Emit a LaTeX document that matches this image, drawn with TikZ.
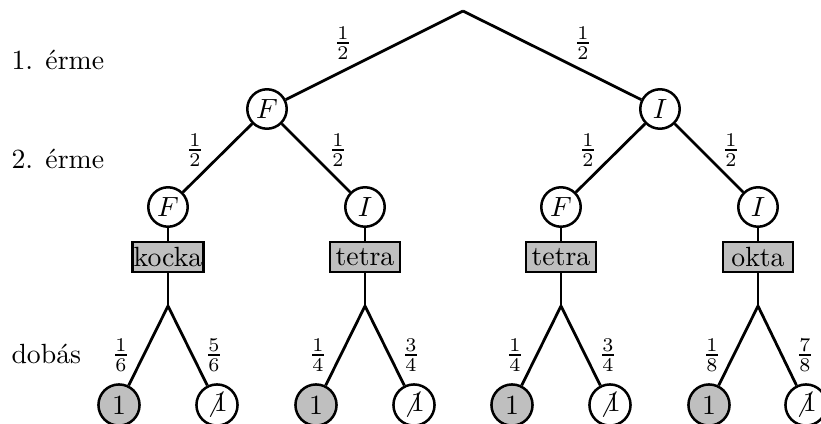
\documentclass[tikz,border=0pt]{standalone}
\definecolor{boxgray}{gray}{0.75}
\tikzset{
  px/.style={x=0.36pt,y=-0.36pt},
  coin/.style={circle,draw,line width=0.9pt,fill=white,minimum size=14.2pt,inner sep=0pt},
  leafhit/.style={circle,draw,line width=0.9pt,fill=boxgray,minimum size=14.8pt,inner sep=0pt},
  leafmiss/.style={circle,draw,line width=0.9pt,fill=white,minimum size=14.8pt,inner sep=0pt},
  diebox/.style={rectangle,draw,line width=0.9pt,fill=boxgray,minimum width=25.2pt,minimum height=10.8pt,inner sep=0.5pt},
  edge/.style={line width=1pt},
  lbl/.style={anchor=base west,inner sep=0pt},
  prob/.style={inner sep=0pt}
}
\begin{document}
\begin{tikzpicture}[px]
\useasboundingbox (0,0) rectangle (821,424);
% left labels
\node[lbl] (l1) at (11,70) {1. érme};
\node[lbl] (l2) at (11,168) {2. érme};
\node[lbl] (l3) at (11,363) {dobás};
% root
\coordinate (r) at (463,11);
% level 1
\node[coin] (a) at (267,109) {$F$};
\node[coin] (b) at (660,109) {$I$};
% level 2
\node[coin] (aa) at (168,207) {$F$};
\node[coin] (ab) at (365,207) {$I$};
\node[coin] (ba) at (561,207) {$F$};
\node[coin] (bb) at (758,207) {$I$};
% boxes
\node[diebox] (ka) at (168,257) {kocka};
\node[diebox] (kb) at (365,257) {tetra};
\node[diebox] (kc) at (561,257) {tetra};
\node[diebox] (kd) at (758,257) {okta};
% branch points
\coordinate (ja) at (168,306);
\coordinate (jb) at (365,306);
\coordinate (jc) at (561,306);
\coordinate (jd) at (758,306);
% leaves
\node[leafhit] (a1) at (119,405) {1};
\node[leafmiss] (a0) at (217,405) {$\not1$};
\node[leafhit] (b1) at (316,405) {1};
\node[leafmiss] (b0) at (414,405) {$\not1$};
\node[leafhit] (c1) at (512,405) {1};
\node[leafmiss] (c0) at (610,405) {$\not1$};
\node[leafhit] (d1) at (709,405) {1};
\node[leafmiss] (d0) at (806,405) {$\not1$};
% edges
\draw[edge] (r) -- (a);
\draw[edge] (r) -- (b);
\draw[edge] (a) -- (aa);
\draw[edge] (a) -- (ab);
\draw[edge] (b) -- (ba);
\draw[edge] (b) -- (bb);
\draw[edge] (aa) -- (ka);
\draw[edge] (ab) -- (kb);
\draw[edge] (ba) -- (kc);
\draw[edge] (bb) -- (kd);
\draw[edge] (ka) -- (ja);
\draw[edge] (kb) -- (jb);
\draw[edge] (kc) -- (jc);
\draw[edge] (kd) -- (jd);
\draw[edge] (ja) -- (a1);
\draw[edge] (ja) -- (a0);
\draw[edge] (jb) -- (b1);
\draw[edge] (jb) -- (b0);
\draw[edge] (jc) -- (c1);
\draw[edge] (jc) -- (c0);
\draw[edge] (jd) -- (d1);
\draw[edge] (jd) -- (d0);
% probabilities
\node[prob] (p1) at (343,43) {$\frac{1}{2}$};
\node[prob] (p2) at (583,43) {$\frac{1}{2}$};
\node[prob] (p3) at (195,150) {$\frac{1}{2}$};
\node[prob] (p4) at (338,150) {$\frac{1}{2}$};
\node[prob] (p5) at (588,150) {$\frac{1}{2}$};
\node[prob] (p6) at (731,150) {$\frac{1}{2}$};
\node[prob] (q1) at (121,355) {$\frac{1}{6}$};
\node[prob] (q2) at (214,355) {$\frac{5}{6}$};
\node[prob] (q3) at (318,355) {$\frac{1}{4}$};
\node[prob] (q4) at (411,355) {$\frac{3}{4}$};
\node[prob] (q5) at (515,355) {$\frac{1}{4}$};
\node[prob] (q6) at (608,355) {$\frac{3}{4}$};
\node[prob] (q7) at (712,355) {$\frac{1}{8}$};
\node[prob] (q8) at (805,355) {$\frac{7}{8}$};
\end{tikzpicture}
\end{document}
